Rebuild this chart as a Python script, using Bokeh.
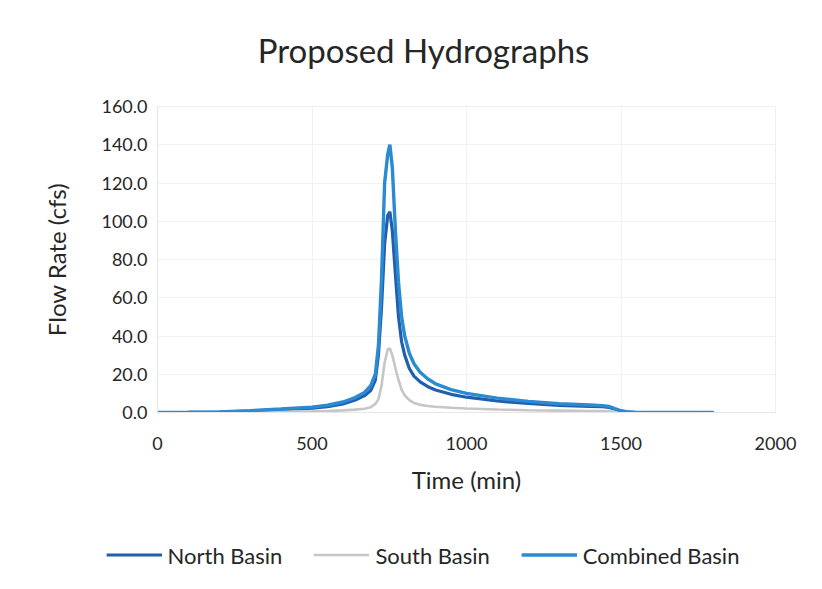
from bokeh.plotting import figure
from bokeh.models import Label, Legend, LegendItem, SingleIntervalTicker, Range1d, NumeralTickFormatter
from bokeh.embed import file_html
from bokeh.resources import INLINE

# Time (min)
time_min = [0, 100, 200, 300, 400, 500, 550, 600, 640, 670, 690, 705, 715, 725, 735,
            745, 752, 760, 770, 780, 790, 800, 815, 830, 850, 875, 900, 950, 1000,
            1100, 1200, 1300, 1400, 1440, 1460, 1480, 1500, 1520, 1550, 1600, 1700, 1800]

north_basin = [0, 0.1, 0.25, 0.7, 1.5, 2.3, 3.1, 4.5, 6.5, 8.8, 11.5, 17, 30, 55, 88,
               103, 105, 95, 72, 50, 37, 30, 23, 19, 16, 13.5, 11.8, 9.5, 8.0,
               6.0, 4.7, 3.7, 3.2, 3.0, 2.7, 1.7, 0.8, 0.3, 0, 0, 0, 0]

south_basin = [0, 0, 0.05, 0.2, 0.4, 0.6, 0.8, 1.1, 1.5, 2.0, 2.8, 4.5, 7, 14, 26,
               33, 33.5, 30, 23, 17, 12, 9, 6.5, 5.0, 4.0, 3.4, 3.0, 2.5, 2.1,
               1.6, 1.2, 1.0, 0.8, 0.7, 0.6, 0.4, 0.2, 0.1, 0, 0, 0, 0]

combined_basin = [0, 0.1, 0.3, 0.9, 1.8, 2.8, 3.8, 5.5, 7.8, 10.5, 14, 20, 35, 70, 120,
                  135, 140, 128, 95, 68, 50, 40, 31, 25.5, 21, 17.5, 15, 12, 10,
                  7.5, 5.8, 4.6, 3.9, 3.6, 3.2, 2.0, 0.9, 0.3, 0, 0, 0, 0]

series_names = ["North Basin", "South Basin", "Combined Basin"]
chart_title = "Proposed Hydrographs"

FONT = "Lato"
TXT = "#262626"
COLORS = ["#1f5fae", "#c6c6c8", "#2a8ad2"]
WIDTHS = [3.2, 2.6, 3.4]


def bare(fig):
    fig.title.visible = False
    fig.outline_line_color = None
    fig.xaxis.visible = False
    fig.yaxis.visible = False
    fig.xgrid.visible = False
    fig.ygrid.visible = False
    fig.background_fill_color = "white"
    fig.border_fill_color = "white"
    return fig


# ---- title strip (822 x 80)
tf = bare(figure(width=822, height=80, x_range=Range1d(0, 822), y_range=Range1d(0, 80),
                 output_backend="svg", toolbar_location=None,
                 min_border_left=0, min_border_right=0, min_border_top=0, min_border_bottom=0))
tf.add_layout(Label(x=423, y=31, text=chart_title, text_align="center",
                    text_baseline="alphabetic", text_font=FONT, text_font_size="33px",
                    text_color=TXT))

# ---- main chart (822 x 440)
p = figure(width=822, height=440, x_range=Range1d(0, 2000), y_range=Range1d(0, 160),
           output_backend="svg", toolbar_location=None,
           min_border_left=157, min_border_right=47, min_border_top=26, min_border_bottom=108)
p.outline_line_color = "#eeeeee"
p.background_fill_color = "white"
p.border_fill_color = "white"

p.xaxis.ticker = SingleIntervalTicker(interval=500)
p.yaxis.ticker = SingleIntervalTicker(interval=20)
p.yaxis.formatter = NumeralTickFormatter(format="0.0")
p.xgrid.grid_line_color = "#f1f1f1"
p.ygrid.grid_line_color = "#f1f1f1"
for ax in (p.xaxis, p.yaxis):
    ax.axis_line_color = "#e6e6e6"
    ax.major_tick_line_color = None
    ax.minor_tick_line_color = None
    ax.major_tick_out = 0
    ax.major_tick_in = 0
    ax.minor_tick_out = 0
    ax.major_label_text_font = FONT
    ax.major_label_text_font_size = "18px"
    ax.major_label_text_color = TXT
    ax.axis_label_text_font = FONT
    ax.axis_label_text_font_style = "normal"
    ax.axis_label_text_color = TXT

p.xaxis.major_label_standoff = 24
p.xaxis.axis_label = "Time (min)"
p.xaxis.axis_label_text_font_size = "24px"
p.xaxis.axis_label_standoff = 12
p.yaxis.major_label_standoff = 10
p.yaxis.axis_label = "Flow Rate (cfs)"
p.yaxis.axis_label_text_font_size = "24px"
p.yaxis.axis_label_standoff = 27

series = [north_basin, south_basin, combined_basin]
for vals, c, w in zip(series, COLORS, WIDTHS):
    p.line(time_min, vals, line_color=c, line_width=w)

# ---- legend strip (822 x 69)
lf = bare(figure(width=822, height=69, x_range=Range1d(0, 1), y_range=Range1d(0, 1),
                 output_backend="svg", toolbar_location=None,
                 min_border_left=23, min_border_right=0, min_border_top=0, min_border_bottom=0))
items = []
for name, c, w in zip(series_names, COLORS, WIDTHS):
    r = lf.line([-5, -4], [-5, -4], line_color=c, line_width=w)
    items.append(LegendItem(label=name, renderers=[r]))
legend = Legend(items=items, orientation="horizontal", location="center",
                label_text_font=FONT, label_text_font_size="22px", label_text_color=TXT,
                glyph_width=56, label_standoff=6, spacing=31, padding=0,
                margin=0, border_line_color=None, background_fill_alpha=0)
lf.add_layout(legend)

open("out.html", "w").write(file_html([tf, p, lf], INLINE))
